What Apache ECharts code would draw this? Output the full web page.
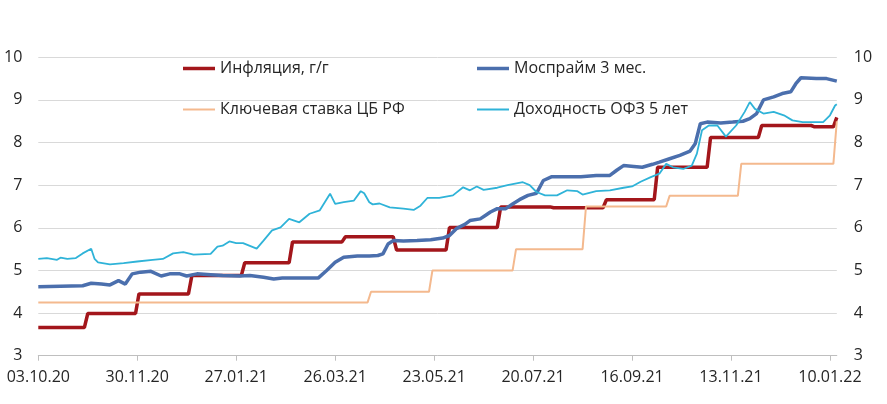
<!DOCTYPE html>
<html>
<head>
<meta charset="utf-8">
<script src="https://cdn.jsdelivr.net/npm/echarts@6/dist/echarts.min.js"></script>
<style>
html,body{margin:0;padding:0;background:#fff;}
#chart{width:887px;height:404px;}
</style>
</head>
<body>
<div id="chart"></div>
<script>
// ---------- DATA ----------
const startDate = '2020-10-03';
const endDate = '2022-01-14';
const tickDates = ['2020-10-03','2020-11-30','2021-01-27','2021-03-26','2021-05-23','2021-07-20','2021-09-16','2021-11-13','2022-01-10'];

const seriesNames = ['Инфляция, г/г', 'Моспрайм 3 мес.', 'Ключевая ставка ЦБ РФ', 'Доходность ОФЗ 5 лет'];

// Inflation y/y (step series: value from date)
const inflationDates = ['2020-10-03','2020-11-01','2020-12-01','2021-01-01','2021-02-01','2021-03-01','2021-04-01','2021-05-01','2021-06-01','2021-07-01','2021-08-01','2021-09-01','2021-10-01','2021-11-01','2021-12-01','2022-01-01','2022-01-14'];
const inflationValues = [3.66,3.99,4.45,4.88,5.18,5.67,5.79,5.48,6.01,6.49,6.47,6.66,7.42,8.12,8.40,8.37,8.59];

// Key rate (step series)
const keyRateDates = ['2020-10-03','2021-04-16','2021-05-22','2021-07-10','2021-08-20','2021-10-08','2021-11-19','2022-01-14'];
const keyRateValues = [4.25,4.5,5.0,5.5,6.5,6.75,7.5,8.5];

// MosPrime 3m
const mosprimeDates = ['2020-10-03','2020-10-29','2020-11-03','2020-11-09','2020-11-14','2020-11-19','2020-11-23','2020-11-27','2020-12-02','2020-12-08','2020-12-14','2020-12-19','2020-12-25','2020-12-29','2021-01-04','2021-01-12','2021-01-19','2021-01-29','2021-02-04','2021-02-12','2021-02-18','2021-02-23','2021-03-16','2021-03-21','2021-03-26','2021-03-31','2021-04-08','2021-04-15','2021-04-20','2021-04-23','2021-04-26','2021-04-29','2021-05-05','2021-05-13','2021-05-21','2021-05-28','2021-06-01','2021-06-05','2021-06-10','2021-06-13','2021-06-19','2021-06-22','2021-06-25','2021-06-29','2021-07-04','2021-07-08','2021-07-12','2021-07-17','2021-07-22','2021-07-26','2021-07-31','2021-08-07','2021-08-17','2021-08-26','2021-09-03','2021-09-07','2021-09-11','2021-09-17','2021-09-22','2021-09-28','2021-10-02','2021-10-08','2021-10-14','2021-10-20','2021-10-23','2021-10-26','2021-10-30','2021-11-07','2021-11-14','2021-11-20','2021-11-24','2021-11-28','2021-12-02','2021-12-08','2021-12-13','2021-12-18','2021-12-21','2021-12-24','2022-01-02','2022-01-08','2022-01-14'];
const mosprimeValues = [4.62,4.64,4.70,4.68,4.66,4.76,4.68,4.92,4.96,4.98,4.87,4.92,4.92,4.87,4.92,4.90,4.88,4.87,4.88,4.84,4.80,4.82,4.82,5.00,5.19,5.31,5.34,5.34,5.35,5.39,5.62,5.70,5.69,5.70,5.72,5.76,5.82,5.98,6.08,6.17,6.21,6.29,6.37,6.45,6.45,6.56,6.66,6.76,6.81,7.11,7.20,7.20,7.20,7.23,7.23,7.35,7.46,7.44,7.42,7.49,7.54,7.62,7.70,7.80,7.97,8.44,8.48,8.46,8.48,8.50,8.56,8.68,9.00,9.07,9.15,9.19,9.38,9.52,9.50,9.50,9.44];

// OFZ 5y yield
const ofzDates = ['2020-10-03','2020-10-08','2020-10-14','2020-10-16','2020-10-20','2020-10-25','2020-10-29','2020-11-03','2020-11-05','2020-11-07','2020-11-14','2020-11-22','2020-11-30','2020-12-09','2020-12-15','2020-12-21','2020-12-27','2021-01-02','2021-01-12','2021-01-16','2021-01-19','2021-01-23','2021-01-27','2021-01-31','2021-02-08','2021-02-12','2021-02-17','2021-02-22','2021-02-27','2021-03-02','2021-03-05','2021-03-11','2021-03-17','2021-03-23','2021-03-26','2021-03-31','2021-04-06','2021-04-10','2021-04-12','2021-04-15','2021-04-17','2021-04-21','2021-04-27','2021-05-05','2021-05-11','2021-05-15','2021-05-19','2021-05-26','2021-06-03','2021-06-09','2021-06-13','2021-06-17','2021-06-21','2021-06-29','2021-07-05','2021-07-14','2021-07-18','2021-07-22','2021-07-27','2021-08-03','2021-08-09','2021-08-15','2021-08-18','2021-08-26','2021-09-03','2021-09-11','2021-09-16','2021-09-21','2021-09-27','2021-10-02','2021-10-06','2021-10-10','2021-10-16','2021-10-21','2021-10-24','2021-10-27','2021-10-31','2021-11-05','2021-11-10','2021-11-16','2021-11-21','2021-11-24','2021-11-27','2021-12-02','2021-12-08','2021-12-14','2021-12-19','2021-12-25','2022-01-06','2022-01-10','2022-01-13','2022-01-14'];
const ofzValues = [5.27,5.29,5.25,5.30,5.27,5.29,5.40,5.51,5.27,5.19,5.14,5.17,5.21,5.25,5.27,5.40,5.43,5.37,5.39,5.56,5.58,5.68,5.64,5.64,5.51,5.70,5.94,6.01,6.21,6.17,6.13,6.33,6.41,6.80,6.56,6.60,6.64,6.86,6.81,6.60,6.55,6.57,6.48,6.45,6.42,6.52,6.70,6.70,6.76,6.95,6.88,6.97,6.89,6.94,7.00,7.07,7.00,6.84,6.76,6.76,6.88,6.86,6.78,6.86,6.88,6.94,6.97,7.08,7.19,7.27,7.50,7.42,7.38,7.46,7.74,8.29,8.40,8.40,8.14,8.40,8.72,8.95,8.79,8.68,8.72,8.64,8.52,8.48,8.48,8.64,8.87,8.90];

// ---------- HELPERS ----------
function toUTC(s){ const p = s.split('-').map(Number); return Date.UTC(p[0], p[1]-1, p[2]); }
const t0 = toUTC(startDate);
function dayNo(s){ return Math.round((toUTC(s) - t0) / 86400000); }
function fmtDay(d){
  const dt = new Date(t0 + d * 86400000);
  const dd = String(dt.getUTCDate()).padStart(2,'0');
  const mm = String(dt.getUTCMonth()+1).padStart(2,'0');
  const yy = String(dt.getUTCFullYear()).slice(2);
  return dd + '.' + mm + '.' + yy;
}
function linePts(dates, vals){ return dates.map((d,i)=>[dayNo(d), vals[i]]); }
function stepPts(dates, vals){
  const out = [[dayNo(dates[0]), vals[0]]];
  for (let i = 1; i < dates.length; i++) {
    const d = dayNo(dates[i]);
    out.push([d - 2, vals[i-1]]);
    out.push([d, vals[i]]);
  }
  return out;
}
const tickDays = tickDates.map(dayNo);
const maxDay = dayNo(endDate);

const FONT = 'Open Sans';
const TXT = '#262626';
const COLORS = ['#a3161b', '#4b6fad', '#f4b98e', '#2fb3d8'];
const WIDTHS = [3.5, 3.5, 2, 1.8];

const chart = echarts.init(document.getElementById('chart'), null, {renderer:'canvas'});
const yAxisBase = {
  type:'value', min:3, max:10, interval:1,
  axisLine:{show:false}, axisTick:{show:false},
  axisLabel:{fontSize:16, fontFamily:FONT, color:TXT}
};
function mkLegend(idx, left, top){
  return {
    orient:'horizontal', padding:0, itemWidth:32, itemHeight:WIDTHS[idx] < 3 ? 2 : 3.5,
    icon:'rect', left:left, top:top,
    textStyle:{fontSize:16, fontFamily:FONT, color:TXT},
    itemStyle:{color:COLORS[idx], borderWidth:0},
    data:[seriesNames[idx]]
  };
}
const option = {
  animation:false,
  backgroundColor:'#fff',
  grid:{left:38.3, right:50.2, top:57.3, bottom:48.3},
  xAxis:{
    type:'value', min:0, max:maxDay,
    axisLine:{show:true, lineStyle:{color:'#bfbfbf', width:1}},
    axisTick:{show:true, length:5, lineStyle:{color:'#bfbfbf'}, customValues:tickDays},
    axisLabel:{customValues:tickDays, formatter:(v)=>fmtDay(v), fontSize:16, fontFamily:FONT, color:TXT, margin:14},
    splitLine:{show:false}
  },
  yAxis:[
    Object.assign({}, yAxisBase, {position:'left', axisLabel:Object.assign({}, yAxisBase.axisLabel, {margin:16}),
      splitLine:{show:true, lineStyle:{color:'#d9d9d9', width:1}}}),
    Object.assign({}, yAxisBase, {position:'right', axisLabel:Object.assign({}, yAxisBase.axisLabel, {margin:17}),
      splitLine:{show:false}})
  ],
  legend:[
    mkLegend(0, 183, 60.5),
    mkLegend(2, 183, 101.5),
    mkLegend(1, 477, 60.5),
    mkLegend(3, 477, 101.5)
  ],
  series:seriesNames.map((n, i) => ({
    name:n, type:'line', symbol:'none',
    data: i === 0 ? stepPts(inflationDates, inflationValues)
        : i === 1 ? linePts(mosprimeDates, mosprimeValues)
        : i === 2 ? stepPts(keyRateDates, keyRateValues)
        : linePts(ofzDates, ofzValues),
    lineStyle:{color:COLORS[i], width:WIDTHS[i]}, itemStyle:{color:COLORS[i]}
  }))
};
chart.setOption(option);
</script>
</body>
</html>
